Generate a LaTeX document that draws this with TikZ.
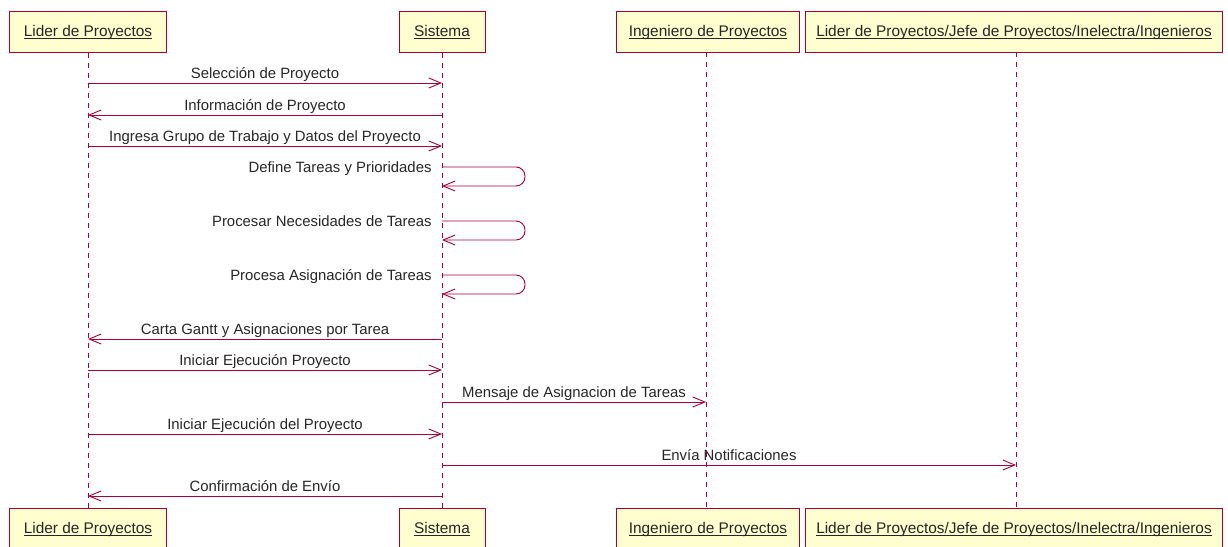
\documentclass[tikz,border=0pt]{standalone}
\usepackage{fontspec}
\setmainfont{Liberation Sans}
\usetikzlibrary{arrows.meta}
\definecolor{umlred}{HTML}{A80036}
\definecolor{umlfill}{HTML}{FEFECE}
% participant name: underlined just below the baseline
\newcommand{\pname}[1]{\underline{\smash{#1}}}
\begin{document}
\begin{tikzpicture}[x=1pt,y=-1pt,
  actor/.style={draw=umlred, fill=umlfill, line width=1pt, minimum height=41pt,
    inner sep=0pt, text height=11pt, text depth=0.6pt,
    font=\fontsize{15.4}{18}\selectfont, text=black!85},
  life/.style={draw=umlred, line width=0.9pt, dash pattern=on 5pt off 5pt},
  msg/.style={draw=umlred, line width=0.9pt, -{Straight Barb[length=12pt,width=10pt]}},
  lbl/.style={font=\fontsize{14.9}{17}\selectfont, text=black!85, inner sep=0pt, anchor=base},
  loopmsg/.style={msg, rounded corners=9pt}
]
\useasboundingbox (0,0) rectangle (1228,546);

% participants (top row)
\node[actor, minimum width=157pt] (lpT) at (88,31.5)   {\pname{Lider de Proyectos}};
\node[actor, minimum width=86pt]  (syT) at (442,31.5)  {\pname{Sistema}};
\node[actor, minimum width=183pt] (inT) at (708,31.5)  {\pname{Ingeniero de Proyectos}};
\node[actor, minimum width=417pt] (alT) at (1014,31.5) {\pname{Lider de Proyectos/Jefe de Proyectos/Inelectra/Ingenieros}};

% participants (bottom row)
\node[actor, minimum width=157pt] (lpB) at (88,528.5)   {\pname{Lider de Proyectos}};
\node[actor, minimum width=86pt]  (syB) at (442,528.5)  {\pname{Sistema}};
\node[actor, minimum width=183pt] (inB) at (708,528.5)  {\pname{Ingeniero de Proyectos}};
\node[actor, minimum width=417pt] (alB) at (1014,528.5) {\pname{Lider de Proyectos/Jefe de Proyectos/Inelectra/Ingenieros}};

% lifelines
\coordinate (inL) at (706,52);
\coordinate (alL) at (1016,52);
\draw[life] (lpT.south) -- (lpB.north);
\draw[life] (syT.south) -- (syB.north);
\draw[life] (inL) -- (inL |- inB.north);
\draw[life] (alL) -- (alL |- alB.north);

% messages
\draw[msg] (lpT |- 0,83) -- node[lbl, yshift=5pt] {Selección de Proyecto} (syT |- 0,83);
\draw[msg] (syT |- 0,115) -- node[lbl, yshift=5pt] {Información de Proyecto} (lpT |- 0,115);
\draw[msg] (lpT |- 0,146) -- node[lbl, yshift=5pt] {Ingresa Grupo de Trabajo y Datos del Proyecto} (syT |- 0,146);

% self messages on Sistema
\draw[loopmsg] (syT |- 0,167) node[lbl, anchor=base east, xshift=-10pt, yshift=-5pt] {Define Tareas y Prioridades}
  -- (525,167) -- (525,186) -- (syT |- 0,186);
\draw[loopmsg] (syT |- 0,221) node[lbl, anchor=base east, xshift=-10pt, yshift=-5pt] {Procesar Necesidades de Tareas}
  -- (525,221) -- (525,240) -- (syT |- 0,240);
\draw[loopmsg] (syT |- 0,275) node[lbl, anchor=base east, xshift=-10pt, yshift=-5pt] {Procesa Asignación de Tareas}
  -- (525,275) -- (525,294) -- (syT |- 0,294);

\draw[msg] (syT |- 0,339) -- node[lbl, yshift=5pt] {Carta Gantt y Asignaciones por Tarea} (lpT |- 0,339);
\draw[msg] (lpT |- 0,370) -- node[lbl, yshift=5pt] {Iniciar Ejecución Proyecto} (syT |- 0,370);
\draw[msg] (syT |- 0,402) -- node[lbl, yshift=5pt] {Mensaje de Asignacion de Tareas} (inL |- 0,402);
\draw[msg] (lpT |- 0,434) -- node[lbl, yshift=5pt] {Iniciar Ejecución del Proyecto} (syT |- 0,434);
\draw[msg] (syT |- 0,465) -- node[lbl, yshift=5pt] {Envía Notificaciones} (alL |- 0,465);
\draw[msg] (syT |- 0,496) -- node[lbl, yshift=5pt] {Confirmación de Envío} (lpT |- 0,496);
\end{tikzpicture}
\end{document}
